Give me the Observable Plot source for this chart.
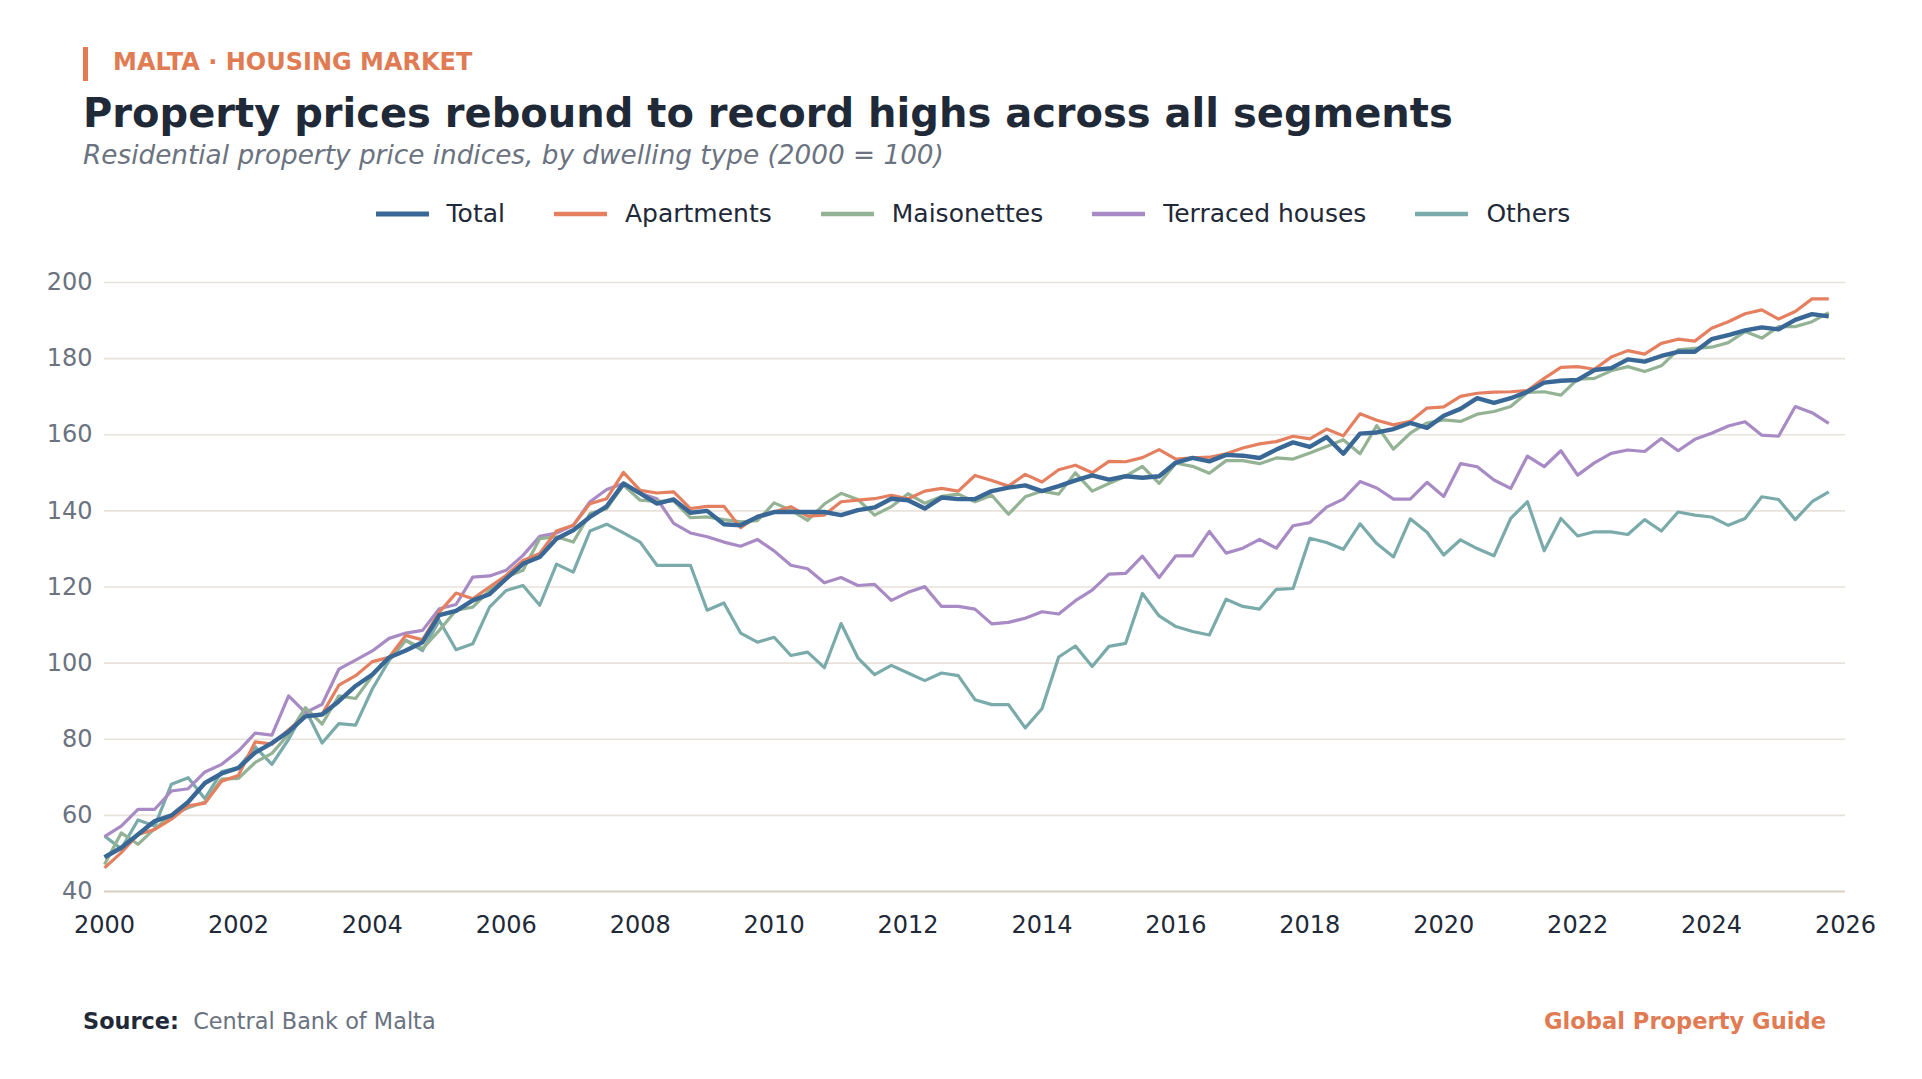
<!DOCTYPE html>
<html>
<head>
<meta charset="utf-8">
<script src="https://cdn.jsdelivr.net/npm/d3@7"></script>
<script src="https://cdn.jsdelivr.net/npm/@observablehq/plot@0.6"></script>
<style>
  html, body { margin: 0; padding: 0; background: #ffffff; }
  body { width: 1922px; height: 1079px; position: relative; overflow: hidden; font-family: "DejaVu Sans", sans-serif; }
  .abs { position: absolute; line-height: 1; white-space: nowrap; }
  #legend { position: absolute; left: 0; width: 1946px; top: 201px; display: flex; justify-content: center; align-items: center; gap: 49px; font-size: 25px; color: #1f2937; line-height: 1; }
  #legend .item { display: flex; align-items: center; gap: 18px; }
  #chart { position: absolute; left: 0; top: 250px; }
</style>
</head>
<body>
<div class="abs" style="left:83px; top:47px; width:5px; height:34px; background:#e07b54;"></div>
<div class="abs" style="left:113px; top:49.7px; font-size:24px; font-weight:bold; color:#e07b54;">MALTA · HOUSING MARKET</div>
<div class="abs" style="left:83px; top:92.5px; font-size:40px; font-weight:bold; color:#1f2937;">Property prices rebound to record highs across all segments</div>
<div class="abs" style="left:83px; top:141.5px; font-size:26.3px; font-style:italic; color:#6b7280;">Residential property price indices, by dwelling type (2000 = 100)</div>
<div id="legend"></div>
<div id="chart"></div>
<div class="abs" style="left:83px; top:1010px; font-size:22.4px; color:#6b7280;"><span style="font-weight:bold; color:#1f2937;">Source:</span>&nbsp; Central Bank of Malta</div>
<div class="abs" style="right:96px; top:1010px; font-size:22.6px; font-weight:bold; color:#e07b54;">Global Property Guide</div>

<script>
// Quarterly observations, 2000 Q1 – 2025 Q4
const startYear = 2000;
const nQuarters = 104;

const total = [
  49, 51.5, 55, 58.5, 60, 63.5, 68.5, 71, 72.5, 76.5, 79, 82, 86, 86.5, 90, 94, 97, 101.5,
  103.3, 105.5, 112.6, 113.7, 116.5, 118.1, 122.2, 126.1, 127.9, 132.7, 134.9, 138.4, 141.2, 147.2,
  144.6, 141.9, 143, 139.5, 140, 136.5, 136.2, 138.4, 139.7, 139.7, 139.7, 139.7, 138.9, 140.2, 140.9, 143.2,
  142.8, 140.6, 143.5, 143.1, 143.1, 145.2, 146.1, 146.7, 145.2, 146.5, 148, 149.3, 148.2, 149.1, 148.7, 149.1,
  152.7, 153.9, 153, 154.7, 154.5, 153.9, 156.1, 158, 156.8, 159.4, 155, 160.3, 160.6, 161.5, 163.1, 161.8, 165, 166.8,
  169.6, 168.4, 169.6, 171.3, 173.7, 174.2, 174.4, 177, 177.5, 179.8,
  179.2, 180.7, 181.8, 181.8, 185.1, 186.2, 187.4, 188.2, 187.7, 190.2, 191.7, 191.1
];

const apartments = [
  46.2, 50.2, 55, 56.3, 59, 62.5, 63.2, 69, 70.5, 79.3, 78.7, 82.5, 86.1, 86.6, 94.2, 96.7, 100.4, 101.5,
  107.3, 106.1, 113.4, 118.4, 116.9, 120, 123.1, 127, 128.8, 134.7, 136.2, 141.9, 143.2, 150.1,
  145.4, 144.7, 145, 140.6, 141.2, 141.2, 135.6, 138.6, 139.7, 141.1, 138.6, 138.9, 142.4, 142.8, 143.2, 144.1,
  143.2, 145.2, 145.9, 145.2, 149.3, 148, 146.5, 149.6, 147.6, 150.8, 152, 150, 153, 152.9, 154, 156.1,
  153.6, 153.9, 154.1, 155, 156.5, 157.6, 158.2, 159.6, 158.9, 161.5, 159.7, 165.5, 163.8, 162.6, 163.5, 167, 167.3, 170.1,
  170.9, 171.2, 171.3, 171.6, 174.8, 177.7, 177.9, 177.2, 180.4, 182.1,
  181.2, 184, 185.1, 184.6, 188, 189.7, 191.8, 192.8, 190.4, 192.4, 195.7, 195.7
];

const maisonettes = [
  47.1, 55.4, 52.4, 56.5, 60, 62, 63.5, 69.5, 69.7, 73.9, 76.3, 81.3, 88.3, 84, 91.4, 90.7, 96.7, 101.5,
  106, 103.8, 108.6, 113.9, 114.7, 119.1, 122.6, 124.4, 132.7, 133.2, 131.8, 139.3, 140.6, 146.8,
  142.8, 142.5, 142.6, 138.2, 138.4, 137.7, 137.1, 137.4, 142.1, 140.2, 137.5, 141.8, 144.6, 143, 138.9, 141.1,
  144.5, 142, 143.8, 144.4, 142.4, 144.1, 139.1, 143.7, 145.2, 144.4, 150, 145.2, 147.2, 149.1, 151.7, 147.2,
  152.5, 151.7, 149.9, 153.2, 153.2, 152.4, 153.9, 153.6, 155.2, 156.9, 158.7, 155, 162.4, 156.2, 160.4, 163.1, 163.9, 163.5,
  165.4, 166.1, 167.4, 171.1, 171.3, 170.4, 174.6, 174.8, 176.8, 177.9,
  176.6, 178.1, 182.3, 182.7, 183, 184.2, 187.1, 185.4, 188.4, 188.4, 189.7, 192.1
];

const terraced = [
  54.4, 57.2, 61.6, 61.6, 66.4, 67, 71.4, 73.4, 76.9, 81.6, 81.1, 91.4, 87, 89.2, 98.4, 100.8, 103.2, 106.5,
  107.9, 108.6, 114.3, 115.4, 122.6, 122.9, 124.4, 128.3, 133.3, 134.2, 136.2, 142.4, 145.6, 147.2,
  144.6, 143.2, 136.7, 134.2, 133.2, 131.8, 130.7, 132.5, 129.5, 125.7, 124.8, 121.1, 122.5, 120.4, 120.7, 116.5,
  118.6, 120.1, 114.9, 114.9, 114.2, 110.3, 110.7, 111.8, 113.5, 112.9, 116.4, 119.2, 123.4, 123.6, 128.1, 122.5,
  128.2, 128.2, 134.6, 128.9, 130.2, 132.5, 130.2, 136.1, 136.9, 141, 143.1, 147.7, 146, 143.1, 143.1, 147.5, 143.8, 152.4,
  151.6, 148.1, 145.9, 154.4, 151.6, 155.8, 149.4, 152.6, 155.1, 156,
  155.6, 159, 155.8, 158.8, 160.4, 162.3, 163.4, 159.9, 159.6, 167.4, 165.8, 163
];

const others = [
  54.6, 51.2, 58.8, 57.2, 68.2, 69.9, 64.4, 71.5, 72.5, 78, 73.4, 80, 87.9, 79, 84.1, 83.7, 93.2, 100.7,
  106, 103.3, 111.2, 103.5, 105.1, 114.7, 119.1, 120.4, 115.2, 126, 123.9, 134.7, 136.5, 134.2,
  131.8, 125.7, 125.7, 125.7, 113.9, 115.8, 107.9, 105.5, 106.8, 102, 102.9, 98.8, 110.4, 101.4, 97, 99.4,
  97.4, 95.4, 97.4, 96.7, 90.4, 89.1, 89.1, 83, 88, 101.6, 104.5, 99.1, 104.4, 105.2, 118.3, 112.4,
  109.6, 108.3, 107.4, 116.8, 114.9, 114.2, 119.4, 119.6, 132.8, 131.7, 129.9, 136.6, 131.4, 127.9, 137.9, 134.4, 128.4, 132.4,
  130.1, 128.2, 138, 142.4, 129.5, 138, 133.4, 134.5, 134.5, 133.8,
  137.7, 134.7, 139.7, 138.9, 138.4, 136.2, 138, 143.7, 143, 137.7, 142.4, 145
];

const seriesNames = ["Total", "Apartments", "Maisonettes", "Terraced houses", "Others"];
const seriesColors = ["#3a6896", "#e48060", "#93b394", "#a88ac4", "#7aaaaa"];
const seriesWidths = [4.4, 3.2, 3.2, 3.2, 3.2];
const seriesValues = [total, apartments, maisonettes, terraced, others];
const yTicks = [40, 60, 80, 100, 120, 140, 160, 180, 200];
const xTicks = [2000, 2002, 2004, 2006, 2008, 2010, 2012, 2014, 2016, 2018, 2020, 2022, 2024, 2026];

const quarters = d3.range(nQuarters).map(i => startYear + i / 4);
const rowsFor = (k) => seriesValues[k].map((v, i) => ({year: quarters[i], value: v, series: seriesNames[k]}));

// Legend
const legend = document.getElementById("legend");
seriesNames.forEach((name, k) => {
  const item = document.createElement("div");
  item.className = "item";
  item.innerHTML = `<svg width="53" height="10"><line x1="0" x2="53" y1="5" y2="5" stroke="${seriesColors[k]}" stroke-width="${k === 0 ? 5 : 4.5}"/></svg><span>${name}</span>`;
  legend.appendChild(item);
});

// draw order: others underneath, total on top
const drawOrder = [4, 3, 2, 1, 0];

const chart = Plot.plot({
  width: 1922,
  height: 700,
  marginLeft: 104,
  marginRight: 77,
  marginTop: 32,
  marginBottom: 59,
  style: {fontFamily: "DejaVu Sans", fontSize: "24px", background: "transparent", overflow: "visible"},
  x: {domain: [2000, 2026], label: null},
  y: {domain: [40, 200], label: null},
  marks: [
    Plot.ruleY(yTicks.filter(v => v > 40), {stroke: "#e8e3da", strokeWidth: 1.6}),
    Plot.ruleY([40], {stroke: "#d6d0c4", strokeWidth: 2.2}),
    Plot.axisX(xTicks, {tickSize: 0, tickPadding: 24, fill: "#1f2937", fontSize: 24, tickFormat: d => String(d), label: null}),
    Plot.axisY(yTicks, {tickSize: 0, tickPadding: 12, fill: "#6b7280", fontSize: 24, label: null}),
    ...drawOrder.map(k => Plot.line(rowsFor(k), {
      x: "year", y: "value",
      stroke: seriesColors[k], strokeWidth: seriesWidths[k],
      strokeLinejoin: "round", strokeLinecap: "butt"
    }))
  ]
});
document.getElementById("chart").appendChild(chart);
</script>
</body>
</html>
